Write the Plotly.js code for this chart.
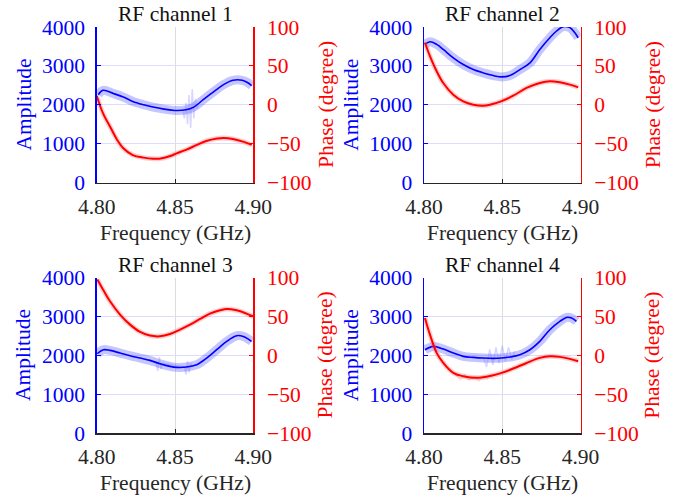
<!DOCTYPE html>
<html>
<head>
<meta charset="utf-8">
<script src="https://cdn.plot.ly/plotly-3.0.1.min.js"></script>
<style>html,body{margin:0;padding:0;background:#fff;}#chart{width:681px;height:504px;}</style>
</head>
<body>
<div id="chart"></div>
<script>
// ---- Data ----
const channelTitles = ["RF channel 1", "RF channel 2", "RF channel 3", "RF channel 4"];
const xTickVals = [4.80, 4.85, 4.90];
const xTickText = ["4.80", "4.85", "4.90"];
const ampTickVals = [0, 1000, 2000, 3000, 4000];
const phaseTickVals = [-100, -50, 0, 50, 100];

const ch1AmpFreq = [4.801, 4.804, 4.811, 4.817, 4.823, 4.830, 4.836, 4.843, 4.850, 4.857, 4.862, 4.868, 4.875, 4.881, 4.887, 4.893, 4.896, 4.899];
const ch1Amp = [2259, 2371, 2284, 2198, 2086, 2000, 1940, 1888, 1853, 1870, 1940, 2129, 2345, 2517, 2629, 2629, 2578, 2491];
const ch1PhFreq = [4.800, 4.804, 4.809, 4.813, 4.817, 4.823, 4.830, 4.836, 4.840, 4.847, 4.851, 4.857, 4.864, 4.870, 4.877, 4.881, 4.887, 4.894, 4.899];
const ch1Ph = [11.6, -10.8, -30, -45, -56, -64.7, -68, -69.4, -69.4, -66, -62.5, -58, -51.7, -46.6, -43.5, -42.7, -44, -47.8, -51.7];

const ch2AmpFreq = [4.8006, 4.8038, 4.8081, 4.8123, 4.8187, 4.8251, 4.8315, 4.8379, 4.8443, 4.8496, 4.8549, 4.8613, 4.8677, 4.8740, 4.8804, 4.8847, 4.8889, 4.8932, 4.8964, 4.8985];
const ch2Amp = [3552, 3621, 3552, 3422, 3207, 3034, 2905, 2819, 2750, 2716, 2750, 2905, 3078, 3422, 3724, 3897, 4009, 3983, 3853, 3724];
const ch2PhFreq = [4.8006, 4.8038, 4.8081, 4.8123, 4.8187, 4.8251, 4.8315, 4.8379, 4.8421, 4.8496, 4.8570, 4.8655, 4.8740, 4.8804, 4.8868, 4.8932, 4.8985];
const ch2Ph = [79.7, 62.5, 43, 28, 12.9, 4.3, 0, -1.3, 0, 4.7, 11.6, 21.6, 28, 30.2, 28.9, 25.9, 22.4];

const ch3AmpFreq = [4.8004, 4.8043, 4.8085, 4.8149, 4.8213, 4.8277, 4.8340, 4.8404, 4.8468, 4.8511, 4.8574, 4.8638, 4.8702, 4.8766, 4.8830, 4.8894, 4.8936, 4.8968, 4.8989];
const ch3Amp = [2039, 2142, 2125, 2057, 1988, 1928, 1868, 1782, 1714, 1688, 1697, 1757, 1928, 2142, 2356, 2502, 2485, 2416, 2356];
const ch3PhFreq = [4.8004, 4.8043, 4.8085, 4.8149, 4.8213, 4.8277, 4.8340, 4.8404, 4.8468, 4.8532, 4.8596, 4.8660, 4.8723, 4.8787, 4.8830, 4.8894, 4.8957, 4.9000];
const ch3Ph = [97.3, 83.5, 69.4, 52.3, 39.4, 30, 25.3, 24.4, 27.4, 33, 39.4, 46.7, 53.6, 57.8, 59.6, 57.8, 53.6, 50];

const ch4AmpFreq = [4.8006, 4.8060, 4.8123, 4.8187, 4.8251, 4.8315, 4.8379, 4.8443, 4.8496, 4.8549, 4.8613, 4.8677, 4.8740, 4.8804, 4.8868, 4.8911, 4.8943, 4.8974];
const ch4Amp = [2142, 2228, 2159, 2057, 1971, 1945, 1928, 1920, 1928, 1954, 2014, 2142, 2356, 2656, 2871, 2973, 2956, 2871];
const ch4PhFreq = [4.8006, 4.8038, 4.8081, 4.8123, 4.8187, 4.8251, 4.8315, 4.8379, 4.8443, 4.8496, 4.8570, 4.8655, 4.8740, 4.8804, 4.8868, 4.8932, 4.8985];
const ch4Ph = [48, 26.6, 3, -9.9, -22.7, -27, -29, -28.3, -25.7, -22.7, -17.1, -9.9, -3.4, -1.3, -2.1, -4.7, -7.7];

// noisy spike segments of the raw (light) traces
const ch1AmpNoiseFreq = [4.855, 4.856, 4.857, 4.858, 4.859, 4.860, 4.861, 4.862, 4.863, 4.864, 4.865];
const ch1AmpNoise = [1850, 1650, 2050, 1500, 2250, 1400, 2400, 1650, 2150, 1900, 2000];
const ch3AmpNoiseFreq = [4.838, 4.839, 4.840, 4.841, 4.842, 4.856, 4.857, 4.858, 4.859, 4.860, 4.861];
const ch3AmpNoise = [1800, 1600, 1950, 1650, 1800, 1700, 1500, 1850, 1550, 1800, 1700];
const ch4AmpNoiseFreq = [4.838, 4.840, 4.842, 4.844, 4.846, 4.848, 4.850, 4.852, 4.854, 4.856, 4.858];
const ch4AmpNoise = [1950, 1700, 2150, 1750, 2200, 1800, 2250, 1850, 2200, 1900, 2100];
const ch4PhNoiseFreq = [4.820, 4.823, 4.826, 4.829, 4.832, 4.835, 4.838, 4.841];
const ch4PhNoise = [-24, -31, -25, -32, -27, -33, -26, -31];

const channels = [
  {ampF: ch1AmpFreq, amp: ch1Amp, phF: ch1PhFreq, ph: ch1Ph, nF: ch1AmpNoiseFreq, n: ch1AmpNoise},
  {ampF: ch2AmpFreq, amp: ch2Amp, phF: ch2PhFreq, ph: ch2Ph},
  {ampF: ch3AmpFreq, amp: ch3Amp, phF: ch3PhFreq, ph: ch3Ph, nF: ch3AmpNoiseFreq, n: ch3AmpNoise},
  {ampF: ch4AmpFreq, amp: ch4Amp, phF: ch4PhFreq, ph: ch4Ph, nF: ch4AmpNoiseFreq, n: ch4AmpNoise, pnF: ch4PhNoiseFreq, pn: ch4PhNoise}
];

// ---- Layout geometry (pixels) ----
const W = 681, H = 504;
const colX = [[96.7, 253.3], [424, 580.5]];
const rowY = [[27, 182.5], [277.5, 433]];
const FONT = "Liberation Serif";
const FS = 21.5;
const BLUE = "#0000ff", RED = "#ff0000", GREY = "#262626";

const traces = [];
const layout = {
  width: W, height: H,
  margin: {l: 0, r: 0, t: 0, b: 0},
  paper_bgcolor: "#fff", plot_bgcolor: "#fff",
  showlegend: false,
  font: {family: FONT, size: FS, color: GREY},
  annotations: []
};

channels.forEach((c, i) => {
  const col = i % 2, row = Math.floor(i / 2);
  const n = i + 1;
  const xa = "x" + (n === 1 ? "" : n);
  const yaL = "y" + (2 * n - 1 === 1 ? "" : (2 * n - 1));
  const yaR = "y" + (2 * n);
  const xKey = "xaxis" + (n === 1 ? "" : n);
  const yLKey = "yaxis" + (2 * n - 1 === 1 ? "" : (2 * n - 1));
  const yRKey = "yaxis" + (2 * n);
  const xd = [colX[col][0] / W, colX[col][1] / W];
  const yd = [1 - rowY[row][1] / H, 1 - rowY[row][0] / H];

  traces.push({x: c.ampF, y: c.amp, xaxis: xa, yaxis: yaL, mode: "lines", line: {color: "rgba(90,90,255,0.35)", width: 9, shape: "spline"}, hoverinfo: "skip"});
  if (c.nF) traces.push({x: c.nF, y: c.n, xaxis: xa, yaxis: yaL, mode: "lines", line: {color: "rgba(90,90,255,0.25)", width: 1.5}, hoverinfo: "skip"});
  traces.push({x: c.ampF, y: c.amp, xaxis: xa, yaxis: yaL, mode: "lines", line: {color: BLUE, width: 1.6, shape: "spline"}});
  traces.push({x: c.phF, y: c.ph, xaxis: xa, yaxis: yaR, mode: "lines", line: {color: "rgba(255,100,100,0.3)", width: 5, shape: "spline"}, hoverinfo: "skip"});
  if (c.pnF) traces.push({x: c.pnF, y: c.pn, xaxis: xa, yaxis: yaR, mode: "lines", line: {color: "rgba(255,100,100,0.25)", width: 1.5}, hoverinfo: "skip"});
  traces.push({x: c.phF, y: c.ph, xaxis: xa, yaxis: yaR, mode: "lines", line: {color: RED, width: 2, shape: "spline"}});

  layout[xKey] = {
    domain: xd, anchor: yaL, range: [4.80, 4.90],
    tickvals: xTickVals, ticktext: xTickText,
    ticks: "inside", ticklen: 4, tickcolor: GREY,
    showline: true, linecolor: GREY, linewidth: 1.5, mirror: false,
    showgrid: true, gridcolor: "#dddddd", gridwidth: 1,
    zeroline: false, tickfont: {family: FONT, size: FS, color: GREY},
    ticklabelstandoff: 4
  };
  layout[yLKey] = {
    domain: yd, anchor: xa, range: [0, 4000],
    tickvals: ampTickVals, ticks: "inside", ticklen: 4, tickcolor: BLUE,
    showline: true, linecolor: BLUE, linewidth: 1.5,
    showgrid: true, gridcolor: "#dcdcff", gridwidth: 1,
    zeroline: false, tickfont: {family: FONT, size: FS, color: BLUE},
    ticklabelstandoff: 6
  };
  layout[yRKey] = {
    overlaying: yaL, side: "right", anchor: xa, range: [-100, 100],
    tickvals: phaseTickVals, ticks: "inside", ticklen: 4, tickcolor: RED,
    showline: true, linecolor: RED, linewidth: 1.5,
    showgrid: false, zeroline: false,
    tickfont: {family: FONT, size: FS, color: RED},
    ticklabelstandoff: 8
  };

  const cx = (colX[col][0] + colX[col][1]) / 2;
  const ann = (text, xpx, ypx, color, angle) => layout.annotations.push({
    text: text, xref: "paper", yref: "paper", x: xpx / W, y: 1 - ypx / H,
    xanchor: "center", yanchor: "middle", showarrow: false, textangle: angle || 0,
    font: {family: FONT, size: FS, color: color}
  });
  ann(channelTitles[i], cx, rowY[row][0] - 13, "#111111");
  ann("Frequency (GHz)", cx, rowY[row][1] + 50, GREY);
  ann("Amplitude", colX[col][0] - 73, (rowY[row][0] + rowY[row][1]) / 2, BLUE, -90);
  ann("Phase (degree)", colX[col][1] + 72, (rowY[row][0] + rowY[row][1]) / 2, RED, -90);
});

Plotly.newPlot("chart", traces, layout, {staticPlot: true, displayModeBar: false});
</script>
</body>
</html>
